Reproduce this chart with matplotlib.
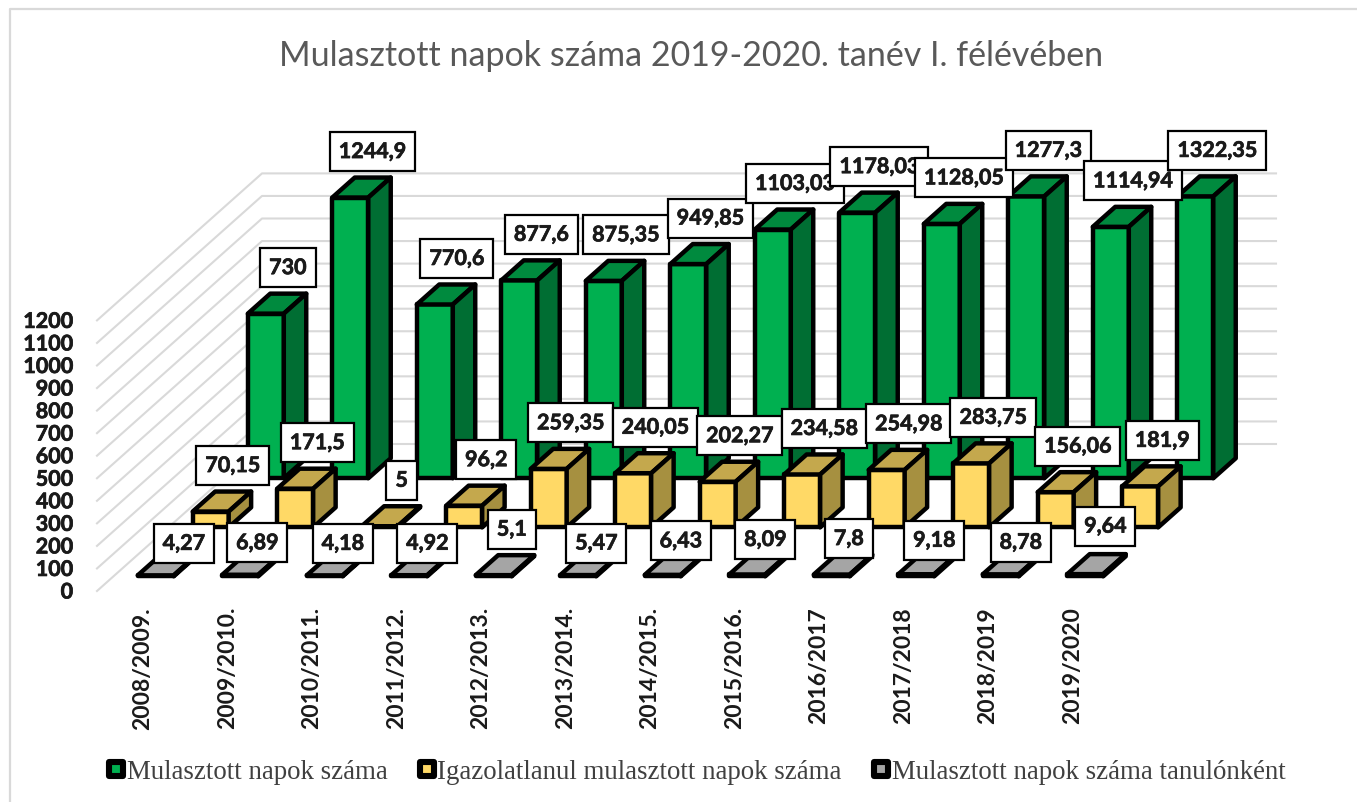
import matplotlib
matplotlib.use('Agg')
import matplotlib.pyplot as plt
import matplotlib.patheffects as pe
from matplotlib.lines import Line2D
from matplotlib.markers import MarkerStyle
from matplotlib.patches import Polygon

title = 'Mulasztott napok száma 2019-2020. tanév I. félévében'
categories = ['2008/2009.', '2009/2010.', '2010/2011.', '2011/2012.', '2012/2013.', '2013/2014.',
              '2014/2015.', '2015/2016.', '2016/2017', '2017/2018', '2018/2019', '2019/2020']
ticks = [0, 100, 200, 300, 400, 500, 600, 700, 800, 900, 1000, 1100, 1200]

names = ['Mulasztott napok száma', 'Igazolatlanul mulasztott napok száma', 'Mulasztott napok száma tanulónként']
missed = [730, 1244.9, 770.6, 877.6, 875.35, 949.85, 1103.03, 1178.03, 1128.05, 1277.3, 1114.94, 1322.35]
unexcused = [70.15, 171.5, 5, 96.2, 259.35, 240.05, 202.27, 234.58, 254.98, 283.75, 156.06, 181.9]
per_student = [4.27, 6.89, 4.18, 4.92, 5.1, 5.47, 6.43, 8.09, 7.8, 9.18, 8.78, 9.64]

# axis of the excel chart stops here, taller bars get cut off
zmax = 1250

# front, top, side
green = ['#00B050', '#008A3E', '#006E33']
yellow = ['#FFD966', '#C4A84D', '#A69040']
gray = ['#A5A5A5', '#A5A5A5', '#7F7F7F']

# the oblique projection of the chart box, in pixels
X0, Y0 = 97, 592
CAT_W = 84.5
DEPTH_X, DEPTH_Y = 165, 147
Z_SCALE = 0.2255
BAR_W = 0.426
BAR_D = 0.136

heavy = [pe.withStroke(linewidth=0.5, foreground='#1A1A1A')]


def project(cat, depth, z):
    return (X0 + cat * CAT_W + depth * DEPTH_X, Y0 - depth * DEPTH_Y - z * Z_SCALE)


def fmt(v):
    return str(v).replace('.', ',')


def draw_bar(ax, cat, depth, value, colors):
    left = cat + (1 - BAR_W) / 2
    right = left + BAR_W
    z = min(value, zmax)
    d2 = depth + BAR_D
    faces = [
        ([(left, depth, 0), (right, depth, 0), (right, depth, z), (left, depth, z)], colors[0]),
        ([(left, depth, z), (right, depth, z), (right, d2, z), (left, d2, z)], colors[1]),
        ([(right, depth, 0), (right, d2, 0), (right, d2, z), (right, depth, z)], colors[2]),
    ]
    for pts, c in faces:
        ax.add_patch(Polygon([project(*p) for p in pts], closed=True, facecolor=c, edgecolor='black',
                             linewidth=3.2, joinstyle='round', zorder=3))


fig = plt.figure(figsize=(13.57, 8.03), dpi=100)
ax = fig.add_axes([0, 0, 1, 1])
ax.set_xlim(0, 1357)
ax.set_ylim(803, 0)
ax.axis('off')

# only the top and left of the chart frame are in the screenshot
ax.plot([10, 10, 1357], [803, 10, 10], color='#D9D9D9', lw=1.6, zorder=0)

ax.text(691, 56, title, fontsize=24.5, family='Lato', color='#595959', ha='center', va='center')

# walls
for t in ticks:
    p0 = project(0, 0, t)
    p1 = project(0, 1, t)
    p2 = project(12, 1, t)
    ax.plot([p0[0], p1[0], p2[0]], [p0[1], p1[1], p2[1]], color='#D9D9D9', lw=1.5, zorder=1)
    ax.text(73, p0[1] + 1, str(t), fontsize=15.5, family='Lato', fontweight='bold', color='#1A1A1A',
            ha='right', va='center', path_effects=heavy)

for i, c in enumerate(categories):
    x = project(i, 0, 0)[0] + 46
    ax.text(x, 607, c, fontsize=16.5, family='Lato', fontweight='bold', color='#1A1A1A',
            rotation=90, ha='center', va='top')

series = [(per_student, 0.1, gray), (unexcused, 0.433, yellow), (missed, 0.767, green)]
# back to front
for values, depth, colors in reversed(series):
    for i, v in enumerate(values):
        draw_bar(ax, i, depth, v, colors)

# the gray labels were moved by hand in the original
nudge_gray = [(10, 0), (-1, 0), (0, 0), (0, 0), (0, -14), (0, 0), (0, -2), (0, -3), (-1, -4), (0, -2), (2, 0), (2, -16)]

box = dict(boxstyle='square,pad=0.42', facecolor='white', edgecolor='black', linewidth=1.6)
for values, depth, colors in series:
    for i, v in enumerate(values):
        left, _ = project(i + (1 - BAR_W) / 2, depth, 0)
        _, top = project(i, depth + BAR_D, min(v, zmax))
        if values is per_student:
            x = left + 36 + nudge_gray[i][0]
            y = top - 12 + nudge_gray[i][1]
        else:
            x = left + 40
            y = top - 26
        ax.text(x, y, fmt(v), fontsize=15.5, family='Lato', fontweight='bold', color='#1A1A1A',
                ha='center', va='center', bbox=box, zorder=5, path_effects=heavy)

rounded = MarkerStyle('s', joinstyle='round')
handles = [Line2D([], [], linestyle='', marker=rounded, markersize=10, markerfacecolor=c[0], markeredgecolor='black',
                  markeredgewidth=4.4, label=n) for n, c in zip(names, [green, yellow, gray])]
ax.legend(handles=handles, loc='center', bbox_to_anchor=(694 / 1357, 1 - 773 / 803), ncol=3, frameon=False,
          prop={'family': 'Liberation Serif', 'size': 19.4}, labelcolor='#404040',
          handletextpad=-0.1, columnspacing=0.95, handlelength=1.0)

fig.savefig('out.png', dpi=100)
